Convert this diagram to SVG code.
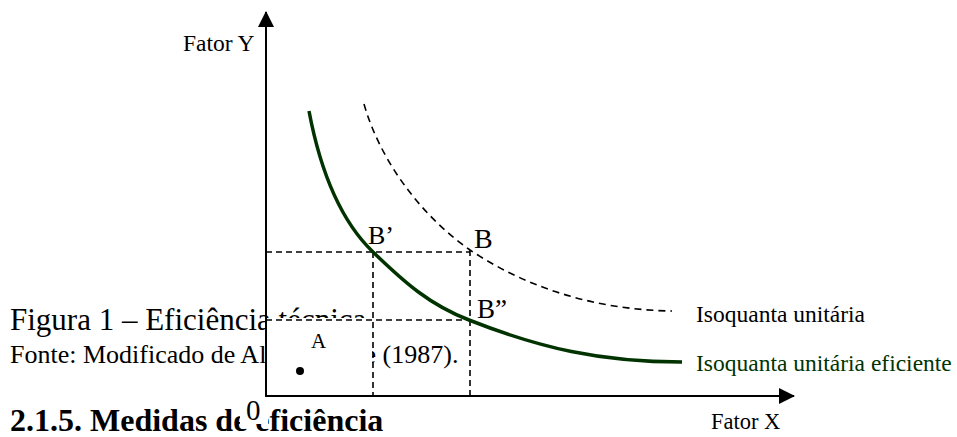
<svg xmlns="http://www.w3.org/2000/svg" width="957" height="437" viewBox="0 0 957 437">
  <style>
    .t { font-family: "Liberation Serif", "Times New Roman", serif; fill: #000; }
    .b { font-weight: bold; }
    .g { fill: #003300; }
    .axis { stroke: #000; stroke-width: 2; fill: none; }
    .guide { stroke: #000; stroke-width: 1.6; stroke-dasharray: 6 4; fill: none; }
    .iso { stroke: #000; stroke-width: 1.6; stroke-dasharray: 7 5; fill: none; }
    .eff { stroke: #003300; stroke-width: 3.5; fill: none; }
  </style>
  <defs>
    <marker id="arrow" markerWidth="16" markerHeight="16" refX="15" refY="8" orient="auto" markerUnits="userSpaceOnUse">
      <path d="M0,0 L16,8 L0,16 Z" fill="#000"/>
    </marker>
  </defs>
  <rect width="957" height="437" fill="#fff"/>

  <g id="caption">
    <text class="t" x="10" y="330" font-size="31">Figura 1 – Eficiência técnica.</text>
    <text class="t" x="10" y="363" font-size="26">Fonte: Modificado de Albuquerque (1987).</text>
    <text class="t b" x="10" y="431" font-size="32">2.1.5. Medidas de eficiência</text>
  </g>

  <g id="plot-area">
    <rect x="267" y="318" width="105" height="77" fill="#fff"/>
  </g>

  <g id="axes">
    <line class="axis" x1="266" y1="397" x2="266" y2="12" marker-end="url(#arrow)"/>
    <line class="axis" x1="265" y1="396" x2="794" y2="396" marker-end="url(#arrow)"/>
    <text class="t" x="183" y="51" font-size="23.5">Fator Y</text>
    <text class="t" x="711" y="429" font-size="22.5">Fator X</text>
  </g>

  <g id="origin">
    <rect x="240" y="398" width="28" height="26" fill="#fff"/>
    <text class="t" x="246" y="420" font-size="29">0</text>
  </g>

  <g id="connectors">
    <line class="guide" x1="266" y1="252" x2="470" y2="252"/>
    <line class="guide" x1="266" y1="320" x2="470" y2="320"/>
    <line class="guide" x1="373" y1="252" x2="373" y2="396"/>
    <line class="guide" x1="470" y1="250" x2="470" y2="396"/>
  </g>

  <g id="isoquanta-unitaria">
    <path class="iso" d="M364,104 C380,160 420,215 470,250 C530,290 600,310 672,311"/>
    <text class="t" x="696" y="322" font-size="23.5">Isoquanta unitária</text>
  </g>

  <g id="isoquanta-eficiente">
    <path class="eff" d="M309,111 C322,180 345,225 373,252 C405,283 430,305 469,320 C540,348 600,362 682,362"/>
    <text class="t g" x="696" y="371" font-size="23.5">Isoquanta unitária eficiente</text>
  </g>

  <g id="point-B">
    <text class="t" x="474" y="248" font-size="28">B</text>
  </g>
  <g id="point-B1">
    <text class="t" x="368" y="244" font-size="26">B’</text>
  </g>
  <g id="point-B2">
    <text class="t" x="477" y="318" font-size="27">B”</text>
  </g>
  <g id="point-A">
    <text class="t" x="311" y="348" font-size="21">A</text>
    <circle cx="300" cy="371" r="4" fill="#000"/>
  </g>
</svg>
